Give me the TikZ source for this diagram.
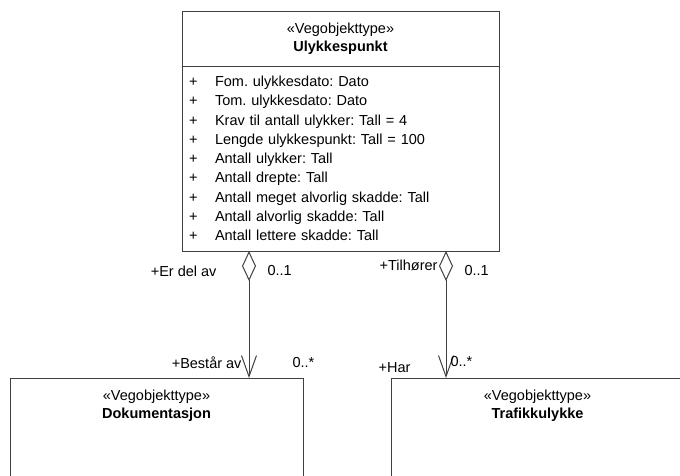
\documentclass[tikz,border=0pt]{standalone}
\usepackage{fontspec}
\setmainfont{Liberation Sans}
\usepackage{tikz}
\usetikzlibrary{positioning}
\usetikzlibrary{arrows.meta}

\definecolor{linje}{HTML}{404040}
\frenchspacing

\begin{document}
\begin{tikzpicture}[x=1pt, y=-1pt,
    every node/.style={font=\fontsize{14.5}{18.5}\selectfont},
    strek/.style={draw=linje, line width=1pt},
    hode/.style={minimum height=55pt, inner sep=0pt, outer sep=0pt, align=center},
    attrboks/.style={strek, text width=303pt, minimum height=185pt, inner xsep=7pt, inner ysep=0pt, outer sep=0pt, align=left, font=\fontsize{14.5}{19.25}\selectfont},
    aggr/.style={strek, arrows={Diamond[open,length=30pt,width=14pt]-Straight Barb[length=21pt,width=15pt]}},
    etikett/.style={inner sep=0pt}]

  \useasboundingbox (0,0) rectangle (680,475);
  \clip (0,0) rectangle (680,475);

  \node[hode, strek, minimum width=317pt] (ulykke) at (340.5,38.5) {«Vegobjekttype»\\\textbf{Ulykkespunkt}};

  \node[attrboks, below=0pt of ulykke] (egenskaper) {%
    \makebox[26pt][l]{+}Fom. ulykkesdato: Dato\\
    \makebox[26pt][l]{+}Tom. ulykkesdato: Dato\\
    \makebox[26pt][l]{+}Krav til antall ulykker: Tall = 4\\
    \makebox[26pt][l]{+}Lengde ulykkespunkt: Tall = 100\\
    \makebox[26pt][l]{+}Antall ulykker: Tall\\
    \makebox[26pt][l]{+}Antall drepte: Tall\\
    \makebox[26pt][l]{+}Antall meget alvorlig skadde: Tall\\
    \makebox[26pt][l]{+}Antall alvorlig skadde: Tall\\
    \makebox[26pt][l]{+}Antall lettere skadde: Tall};

  \node[hode, minimum width=293pt, anchor=north west] (dok) at (10,378) {«Vegobjekttype»\\\textbf{Dokumentasjon}};
  \draw[strek] ([yshift=-60pt]dok.south west) -- (dok.north west) -- (dok.north east) -- ([yshift=-60pt]dok.south east);

  \node[hode, minimum width=293pt, anchor=north west] (trafikk) at (391,378) {«Vegobjekttype»\\\textbf{Trafikkulykke}};
  \draw[strek] ([yshift=-60pt]trafikk.south west) -- (trafikk.north west) -- (trafikk.north east) -- ([yshift=-60pt]trafikk.south east);

  \draw[aggr] ([xshift=67pt]egenskaper.south west) -- ([xshift=67pt]egenskaper.south west |- dok.north)
    node[etikett, pos=0.157, left=32pt] (rolle1) {+Er del av}
    node[etikett, pos=0.15, right=18pt] (mult1) {0..1}
    node[etikett, pos=0.882, left=7pt] (rolle2) {+Består av}
    node[etikett, pos=0.88, right=43pt] (mult2) {0..*};

  \draw[aggr] ([xshift=264pt]egenskaper.south west) -- ([xshift=264pt]egenskaper.south west |- trafikk.north)
    node[etikett, pos=0.11, left=8pt] (rolle3) {+Tilhører}
    node[etikett, pos=0.15, right=18pt] (mult3) {0..1}
    node[etikett, pos=0.92, left=35pt] (rolle4) {+Har}
    node[etikett, pos=0.874, right=4pt] (mult4) {0..*};

\end{tikzpicture}
\end{document}
